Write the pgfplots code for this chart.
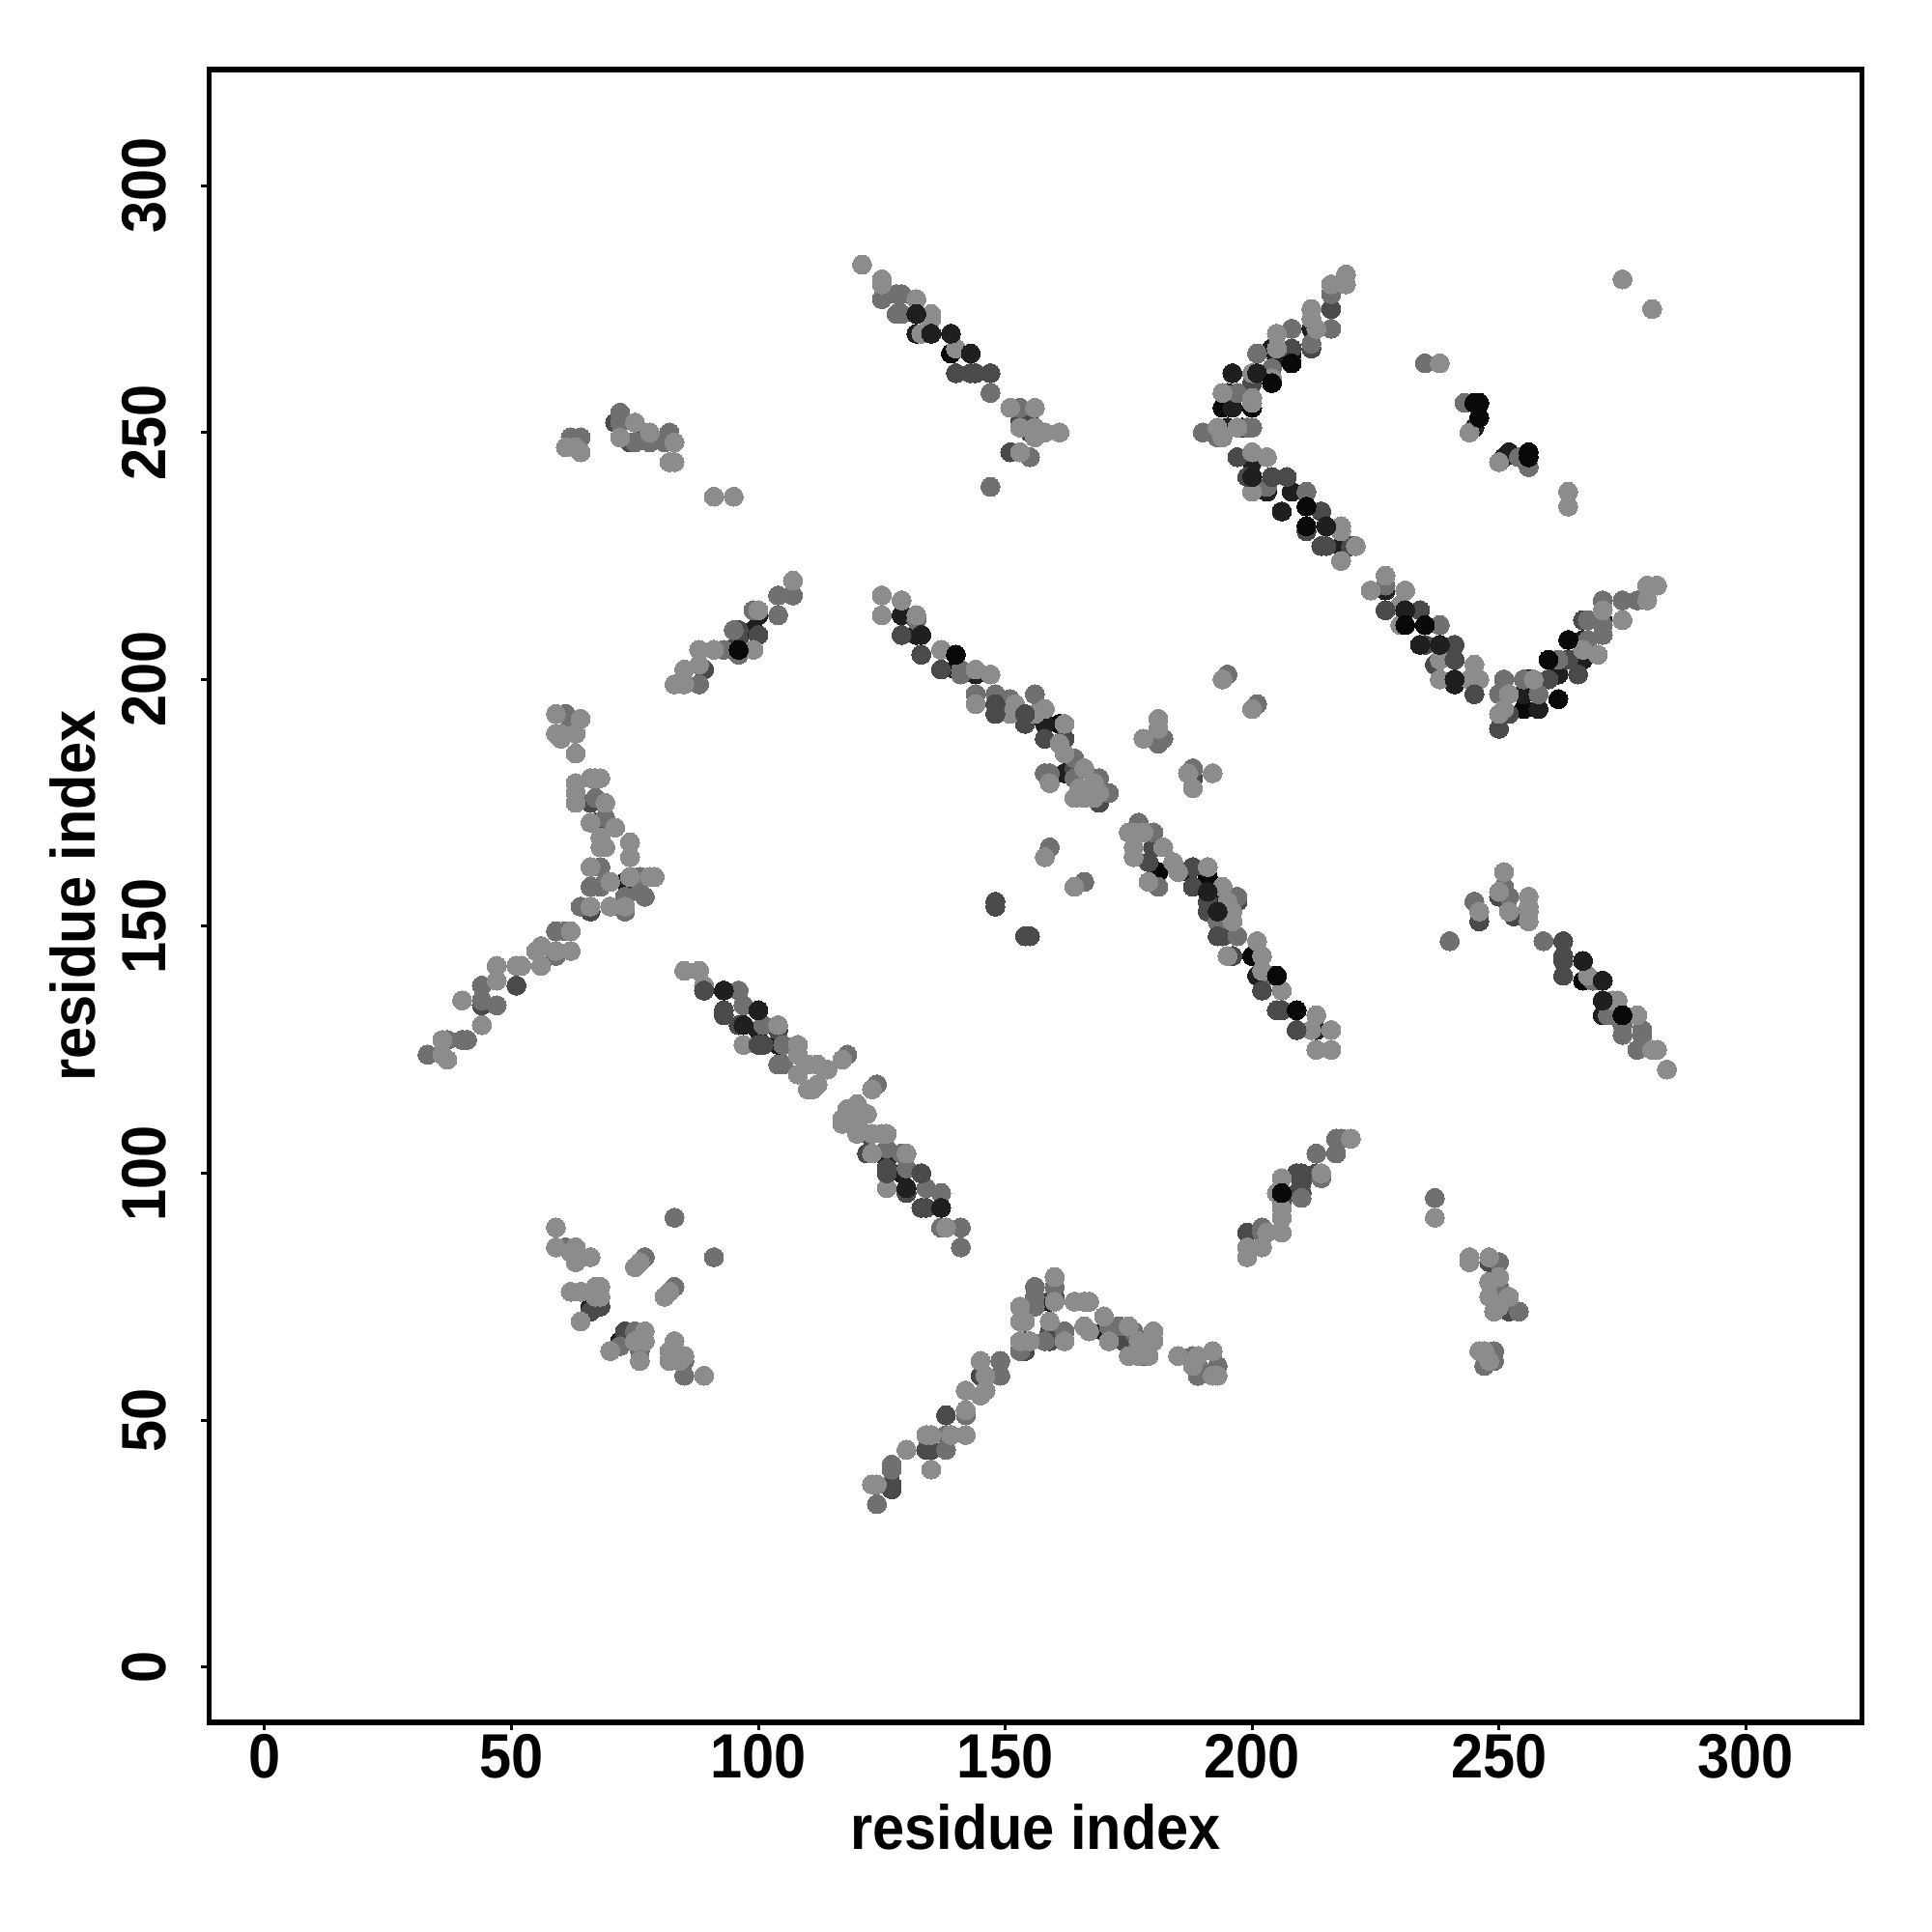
\documentclass[border=0pt]{standalone}
\usepackage{fontspec}
\setmainfont{Liberation Sans}
\usepackage{pgfplots}
\pgfplotsset{compat=1.18}
\pgfplotsset{pt/.style={only marks,mark=*,mark size=3.55pt,color=#1,line width=0pt,mark options={draw=#1,fill=#1,line width=0pt}}}
\definecolor{cL}{gray}{0.55}
\definecolor{cM}{gray}{0.44}
\definecolor{cD}{gray}{0.29}
\definecolor{cV}{gray}{0.12}
\definecolor{cK}{gray}{0.03}
\begin{document}
\begin{tikzpicture}[x=1pt,y=1pt]
\path[use as bounding box] (-78.0pt,-78.1pt) rectangle (642.0pt,641.9pt);
\begin{axis}[
  at={(0pt,0pt)},anchor=south west,
  scale only axis,width=615.9pt,height=616pt,
  xmin=-11.2,xmax=323.5,ymin=-11.2,ymax=323.5,
  axis line style={line width=2pt},
  xtick={0,50,100,150,200,250,300},ytick={0,50,100,150,200,250,300},
  tick pos=left,tick align=outside,
  major tick length=3pt,
  tick style={line width=1.1pt,black},
  /pgf/number format/assume math mode=true,
  tick label style={font=\fontsize{23.3}{25}\selectfont\bfseries},
  xticklabel style={xscale=0.92,yshift=2pt},
  yticklabel style={rotate=90,xscale=0.92,anchor=south,yshift=9.5pt},
  xlabel={residue index},ylabel={residue index},
  label style={font=\fontsize{23.3}{25}\selectfont\bfseries},
  xlabel style={at={(axis description cs:0.5,0)},xscale=0.92,anchor=center,yshift=-39pt},
  ylabel style={at={(axis description cs:0,0.5)},xscale=0.92,anchor=center,yshift=51pt},
  clip=true,
]
% darkest contacts, beneath the lighter ones
\addplot[pt=cK] coordinates {(139,266)(140,202)(161,191)(181,161)(191,160)(200,144)(200,255)(194,255)(255,194)(256,200)(251,197)(267,139)(204,263)(208,266)};
\addplot[pt=cV] coordinates {(99,210)(100,213)(132,270)(129,213)(132,209)(144,201)(158,191)(162,181)(181,188)(187,161)(193,155)(201,140)(213,129)(212,271)(204,267)(205,265)(195,258)(196,255)(195,251)(198,251)(200,244)(203,238)(208,238)(206,234)(218,227)(227,218)(245,200)(241,199)(255,197)(258,194)(262,201)(267,204)(267,208)(271,212)(252,246)(251,245)(245,251)(271,132)(73,159)(67,171)(100,129)(104,126)(126,103)(129,100)(66,73)(72,66)(159,74)(170,68)};
\addplot[pt=cD] coordinates {(71,252)(74,248)(77,250)(89,202)(96,210)(96,208)(100,209)(140,262)(143,262)(144,262)(147,262)(151,246)(153,252)(155,252)(155,250)(129,209)(133,205)(137,202)(144,197)(154,191)(158,188)(162,188)(164,182)(169,175)(188,180)(148,155)(148,154)(154,148)(155,148)(180,166)(179,163)(188,162)(188,158)(191,153)(197,155)(194,148)(196,144)(246,151)(250,156)(253,152)(216,275)(212,267)(208,267)(200,260)(197,245)(211,230)(214,227)(220,227)(235,207)(237,203)(252,193)(260,200)(264,204)(266,201)(267,212)(250,190)(66,175)(68,171)(66,153)(51,138)(44,134)(93,132)(96,130)(104,129)(122,108)(122,104)(130,96)(67,73)(68,73)(66,72)(73,68)(248,82)(249,74)(252,72)(209,100)(210,100)(210,98)(213,100)(209,96)(210,96)(206,94)(199,88)(160,75)(159,68)(154,66)(154,64)(159,66)(174,66)(178,63)(145,59)(135,44)(134,44)(127,37)(127,36)(138,51)};
\addplot[pt=cM] coordinates {(62,249)(64,249)(72,254)(72,252)(78,248)(75,248)(82,250)(81,248)(107,217)(104,217)(104,213)(99,214)(95,210)(96,205)(93,206)(88,199)(125,277)(128,278)(129,278)(128,274)(129,274)(147,258)(153,255)(155,245)(147,239)(132,212)(141,201)(144,197)(148,197)(151,196)(156,197)(141,202)(164,184)(158,181)(159,181)(164,180)(169,180)(171,177)(195,201)(201,195)(182,188)(181,187)(188,182)(159,166)(166,159)(177,171)(180,169)(181,158)(197,156)(193,151)(197,148)(204,140)(245,155)(240,147)(251,158)(252,156)(259,147)(269,139)(272,132)(275,128)(275,130)(279,129)(279,128)(278,125)(216,278)(216,271)(208,271)(212,268)(201,266)(204,263)(197,258)(199,251)(200,251)(190,250)(193,249)(203,239)(211,238)(227,219)(238,211)(251,200)(255,200)(250,197)(258,197)(262,204)(268,208)(271,209)(271,211)(268,212)(271,216)(275,216)(278,216)(235,264)(243,256)(254,245)(256,243)(61,193)(62,192)(67,176)(69,172)(68,162)(66,158)(68,158)(76,160)(73,156)(77,156)(76,157)(64,154)(73,153)(59,149)(61,149)(59,144)(44,138)(44,135)(47,134)(37,127)(40,127)(41,127)(33,124)(96,137)(97,134)(101,130)(105,126)(104,122)(105,122)(118,124)(124,118)(126,105)(129,104)(130,101)(134,97)(137,96)(137,89)(141,89)(141,85)(61,85)(83,91)(91,83)(77,83)(83,77)(72,65)(75,68)(76,64)(85,62)(85,59)(217,107)(218,107)(217,104)(213,104)(214,99)(210,95)(202,89)(202,88)(237,95)(250,82)(250,77)(254,72)(249,64)(249,62)(247,61)(160,77)(156,77)(156,75)(156,73)(162,68)(171,69)(173,69)(158,66)(153,64)(176,68)(188,63)(189,59)(193,61)(189,61)(149,62)(149,59)(142,51)(138,47)(138,44)(127,41)(127,40)(124,33)};
\addplot[pt=cL] coordinates {(121,284)(61,247)(64,246)(63,247)(72,249)(75,252)(78,250)(83,248)(82,244)(83,244)(91,237)(95,237)(107,220)(100,214)(99,206)(91,206)(88,206)(88,203)(85,202)(85,199)(83,199)(125,281)(125,280)(132,277)(135,274)(135,273)(133,270)(140,267)(151,255)(156,255)(153,251)(156,251)(157,250)(158,250)(156,249)(161,250)(153,246)(125,217)(125,213)(129,216)(132,213)(137,206)(144,202)(147,201)(144,195)(151,193)(152,195)(156,193)(158,194)(162,191)(161,187)(162,185)(166,182)(159,179)(165,178)(164,176)(166,176)(168,179)(168,176)(169,177)(194,200)(200,194)(181,192)(181,190)(178,188)(187,181)(192,181)(188,178)(158,164)(164,158)(175,169)(176,169)(176,166)(176,164)(178,169)(182,166)(184,163)(179,159)(185,161)(191,162)(194,158)(195,155)(196,153)(196,151)(195,144)(201,147)(202,144)(202,141)(206,137)(213,132)(212,129)(216,129)(213,125)(216,125)(284,121)(246,153)(251,161)(250,157)(252,153)(256,156)(256,154)(256,153)(256,151)(268,140)(274,135)(273,135)(278,132)(281,125)(282,125)(219,282)(219,280)(216,280)(212,275)(212,273)(213,271)(205,270)(205,267)(204,261)(200,262)(200,257)(200,256)(194,258)(193,251)(194,249)(197,251)(200,246)(203,245)(200,238)(218,231)(218,230)(221,227)(218,224)(227,221)(224,218)(231,218)(230,215)(230,211)(238,204)(245,203)(238,200)(244,200)(246,200)(252,197)(250,193)(251,194)(257,200)(270,205)(267,206)(271,214)(275,212)(280,216)(280,219)(282,219)(275,281)(281,275)(238,264)(244,250)(250,244)(264,238)(264,235)(59,193)(59,189)(64,192)(60,189)(63,189)(60,188)(63,185)(63,179)(63,177)(63,175)(66,180)(67,180)(68,180)(69,175)(66,171)(71,170)(68,168)(69,166)(68,166)(74,167)(74,164)(66,162)(70,159)(74,160)(78,160)(79,160)(66,154)(70,154)(73,154)(62,149)(59,145)(62,145)(56,146)(55,145)(56,142)(51,142)(52,142)(47,142)(47,139)(40,135)(44,130)(36,127)(36,124)(37,123)(85,141)(88,141)(89,138)(104,130)(97,126)(108,126)(108,124)(108,120)(110,122)(112,122)(114,121)(112,118)(110,117)(111,117)(117,123)(123,117)(120,114)(118,113)(117,111)(122,112)(117,110)(120,110)(120,108)(123,108)(126,108)(125,108)(123,104)(130,104)(126,97)(138,89)(59,89)(59,85)(63,85)(62,84)(63,82)(66,83)(76,82)(75,81)(82,76)(81,75)(62,76)(64,76)(67,77)(68,77)(67,75)(68,75)(64,70)(70,64)(77,68)(75,66)(77,66)(76,62)(83,66)(82,64)(82,62)(83,63)(85,63)(89,59)(84,62)(220,107)(206,99)(214,100)(205,96)(206,93)(206,91)(206,88)(203,88)(199,85)(202,85)(199,83)(237,91)(244,83)(244,82)(248,83)(250,79)(248,78)(248,75)(252,75)(249,72)(250,73)(246,64)(247,64)(248,62)(160,79)(160,74)(153,73)(153,70)(154,70)(164,74)(166,74)(167,74)(159,70)(170,71)(166,69)(167,68)(162,66)(153,66)(155,66)(171,66)(175,69)(175,63)(177,66)(177,63)(179,63)(179,65)(180,68)(180,66)(185,63)(188,61)(189,63)(192,64)(192,59)(193,59)(145,62)(146,59)(142,56)(145,55)(146,56)(142,52)(142,47)(139,47)(135,47)(134,47)(130,44)(135,40)(123,37)(124,37)};
% dark contacts that lie on top
\addplot[pt=cD] coordinates {(227,214)(234,214)(241,207)(241,204)(245,197)(215,227)(214,234)(207,241)(204,241)(199,241)(148,195)(148,193)(154,193)(263,147)(263,144)(263,143)(263,140)(126,100)(126,101)(133,100)(133,93)(134,93)(89,137)(93,133)(100,126)(101,126)(209,129)(205,133)(206,133)(202,137)(193,148)(191,155)};
\addplot[pt=cV] coordinates {(132,274)(135,270)(139,270)(143,266)(133,209)(196,262)(201,262)(271,135)(271,139)(267,143)(130,97)(137,93)(93,137)(100,133)(97,130)(231,214)(234,207)(238,207)(241,200)(215,231)(200,241)(193,153)(191,157)};
\addplot[pt=cK] coordinates {(96,206)(140,205)(205,140)(209,133)(208,264)(204,260)(211,235)(211,231)(231,211)(235,211)(262,196)(264,208)(260,204)(245,256)(246,256)(246,253)(256,246)(256,245)(275,132)(206,96)};
\end{axis}
\end{tikzpicture}
\end{document}
